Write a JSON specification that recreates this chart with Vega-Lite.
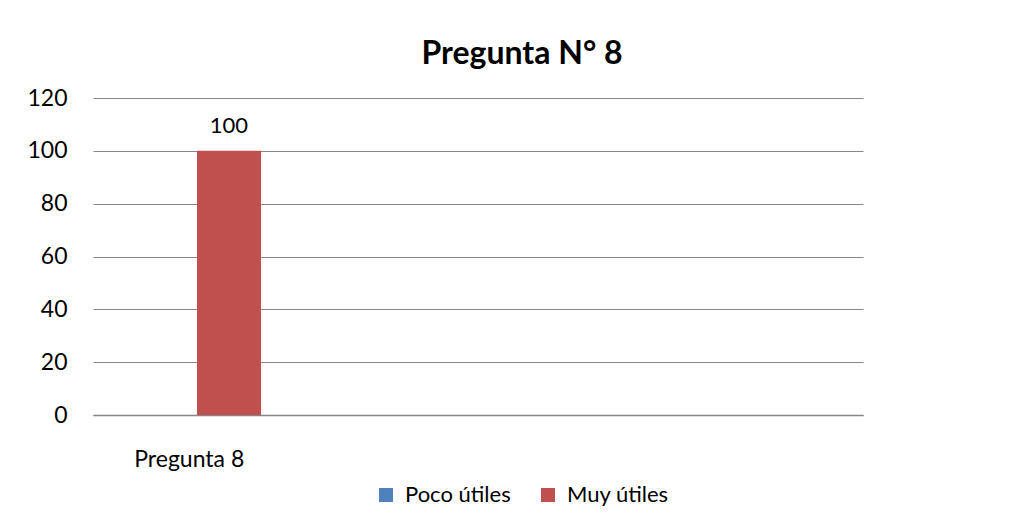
{
  "$schema": "https://vega.github.io/schema/vega-lite/v6.json",
  "width": 770,
  "height": 317,
  "autosize": "none",
  "padding": {"left": 93, "top": 98, "right": 159, "bottom": 112},
  "background": "white",
  "title": {
    "text": "Pregunta N° 8",
    "anchor": "middle",
    "dx": 44,
    "fontSize": 32,
    "font": "Lato",
    "fontWeight": "bold",
    "color": "black",
    "offset": 16
  },
  "data": {
    "values": [
      {"categoria": "Pregunta 8", "serie": "Poco útiles", "valor": 0},
      {"categoria": "Pregunta 8", "serie": "Muy útiles", "valor": 100}
    ]
  },
  "encoding": {
    "x": {
      "field": "categoria",
      "type": "nominal",
      "scale": {"domain": ["Pregunta 8", " ", "  ", "   "], "paddingInner": 0, "paddingOuter": 0},
      "axis": {
        "title": null,
        "labelAngle": 0,
        "ticks": false,
        "labelPadding": 33,
        "labelFont": "Lato",
        "labelFontSize": 23,
        "labelColor": "black",
        "domainColor": "#868686",
        "domainWidth": 1.5,
        "grid": false
      }
    },
    "xOffset": {
      "field": "serie",
      "type": "nominal",
      "scale": {"domain": ["Poco útiles", "Muy útiles"], "paddingInner": 0, "paddingOuter": 0.504, "align": 0.62}
    },
    "y": {
      "field": "valor",
      "type": "quantitative",
      "scale": {"domain": [0, 120], "nice": false},
      "axis": {
        "title": null,
        "values": [0, 20, 40, 60, 80, 100, 120],
        "ticks": false,
        "domain": false,
        "labelPadding": 26,
        "labelFont": "Lato",
        "labelFontSize": 23,
        "labelColor": "black",
        "gridColor": "#868686",
        "gridWidth": 1
      }
    }
  },
  "layer": [
    {
      "mark": {"type": "bar"},
      "encoding": {
        "color": {
          "field": "serie",
          "type": "nominal",
          "scale": {"domain": ["Poco útiles", "Muy útiles"], "range": ["#4F81BD", "#C0504D"]},
          "legend": {
            "title": null,
            "orient": "none",
            "direction": "horizontal",
            "legendX": 282,
            "legendY": 386,
            "symbolType": "square",
            "symbolSize": 196,
            "symbolStrokeWidth": 0,
            "labelFont": "Lato",
            "labelFontSize": 22,
            "labelColor": "black",
            "labelOffset": 8,
            "columnPadding": 26
          }
        }
      }
    },
    {
      "transform": [{"filter": "datum.valor > 0"}],
      "mark": {"type": "text", "baseline": "alphabetic", "dy": -18, "font": "Lato", "fontSize": 22, "color": "black"},
      "encoding": {
        "text": {"field": "valor", "type": "quantitative"}
      }
    }
  ],
  "config": {
    "view": {"stroke": null}
  }
}
